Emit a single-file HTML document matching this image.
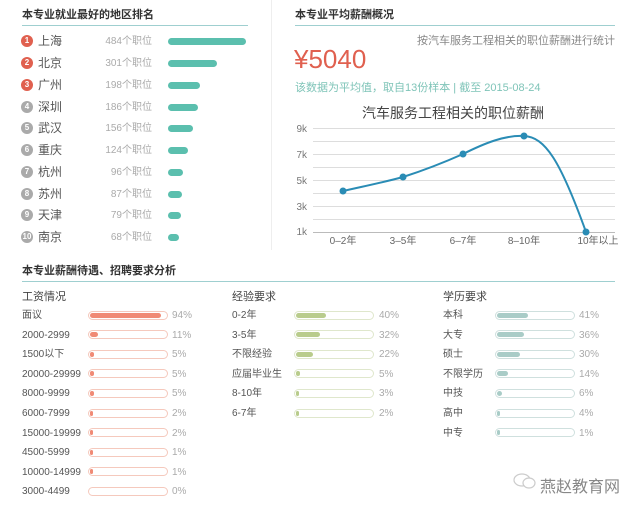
<!DOCTYPE html>
<html><head><meta charset="utf-8"><style>
body{margin:0;width:640px;height:510px;background:#fff;position:relative;overflow:hidden;font-family:"Liberation Sans","Noto Sans CJK SC",sans-serif;}
.a{position:absolute;white-space:nowrap;}
.t{font-size:11px;font-weight:bold;color:#333;}
.c{width:12px;height:12px;border-radius:50%;color:#fff;font-size:8px;line-height:12px;text-align:center;font-weight:bold;}
.bar{position:absolute;height:7px;border-radius:4px;background:#5bbfae;}
.pb{position:absolute;height:9px;border-radius:5px;box-sizing:border-box;}
.pb i{position:absolute;left:1px;top:1px;height:5px;border-radius:3px;}
.g{color:#aaa;font-size:10px;line-height:12px;}
.l{font-size:10px;color:#555;line-height:12px;}
</style></head><body>
<div class="a t" style="left:22px;top:6px">本专业就业最好的地区排名</div>
<div class="a" style="left:22px;top:25px;width:226px;height:1px;background:#9fcfd0"></div>
<div class="a" style="left:271px;top:0;width:1px;height:250px;background:#eee"></div>
<div id="rank"></div>
<div class="a t" style="left:295px;top:6px">本专业平均薪酬概况</div>
<div class="a" style="left:295px;top:25px;width:320px;height:1px;background:#9fcfd0"></div>
<div class="a" style="right:25px;top:32px;font-size:11px;color:#888">按汽车服务工程相关的职位薪酬进行统计</div>
<div class="a" style="left:294px;top:44px;font-size:26px;color:#e0604f">¥5040</div>
<div class="a" style="left:295px;top:79px;font-size:11px;color:#7fc4b8">该数据为平均值，取自13份样本 | 截至 2015-08-24</div>
<svg class="a" style="left:0;top:0" width="640" height="250">
<text x="453" y="118" font-size="14" fill="#444" text-anchor="middle" font-family="Liberation Sans,Noto Sans CJK SC,sans-serif">汽车服务工程相关的职位薪酬</text>
<g stroke="#ddd" stroke-width="1">
<line x1="313" x2="615" y1="128.5" y2="128.5"/><line x1="313" x2="615" y1="141.5" y2="141.5"/><line x1="313" x2="615" y1="154.5" y2="154.5"/><line x1="313" x2="615" y1="167.5" y2="167.5"/><line x1="313" x2="615" y1="180.5" y2="180.5"/><line x1="313" x2="615" y1="193.5" y2="193.5"/><line x1="313" x2="615" y1="206.5" y2="206.5"/><line x1="313" x2="615" y1="219.5" y2="219.5"/>
</g>
<line x1="313" x2="615" y1="232.5" y2="232.5" stroke="#bbb"/>
<g fill="#777" font-size="10" text-anchor="end" font-family="Liberation Sans,sans-serif">
<text x="307" y="132">9k</text><text x="307" y="158">7k</text><text x="307" y="184">5k</text><text x="307" y="210">3k</text><text x="307" y="235">1k</text></g>
<g fill="#666" font-size="10" text-anchor="middle" font-family="Liberation Sans,Noto Sans CJK SC,sans-serif">
<text x="343" y="244">0–2年</text><text x="403" y="244">3–5年</text><text x="463" y="244">6–7年</text><text x="524" y="244">8–10年</text><text x="598" y="244">10年以上</text></g>
<path d="M343,191 C365,186 385,182 403,177 C425,170 445,162 463,154 C485,143 505,135 524,136 C545,137 560,160 586,232" fill="none" stroke="#2a8cb5" stroke-width="2"/>
<g fill="#2a8cb5"><circle cx="343" cy="191" r="3.5"/><circle cx="403" cy="177" r="3.5"/><circle cx="463" cy="154" r="3.5"/><circle cx="524" cy="136" r="3.5"/><circle cx="586" cy="232" r="3.5"/></g>
</svg>
<div class="a t" style="left:22px;top:262px">本专业薪酬待遇、招聘要求分析</div>
<div class="a" style="left:22px;top:281px;width:593px;height:1px;background:#9fcfd0"></div>
<div class="a" style="left:22px;top:288px;font-size:11px;color:#444">工资情况</div>
<div class="a" style="left:232px;top:288px;font-size:11px;color:#444">经验要求</div>
<div class="a" style="left:443px;top:288px;font-size:11px;color:#444">学历要求</div>
<div id="bot"></div>
<svg class="a" style="left:512px;top:472px" width="26" height="18"><ellipse cx="10" cy="8" rx="8" ry="6" fill="none" stroke="#ccc" stroke-width="1.2"/><ellipse cx="17" cy="11" rx="6" ry="5" fill="#fff" stroke="#ccc" stroke-width="1.2"/></svg>
<div class="a" style="left:540px;top:473px;font-size:16px;color:#888">燕赵教育网</div>
<script>
var R=[["上海",484],["北京",301],["广州",198],["深圳",186],["武汉",156],["重庆",124],["杭州",96],["苏州",87],["天津",79],["南京",68]];
var h="",ys=[41,63,85,107,128,150,172,194,215,237];
R.forEach(function(r,i){var y=ys[i];
h+='<div class="a c" style="left:21px;top:'+(y-6)+'px;background:'+(i<3?'#e0604f':'#aaa')+'">'+(i+1)+'</div>';
h+='<div class="a" style="left:38px;top:'+(y-7)+'px;font-size:12px;line-height:14px;color:#555">'+r[0]+'</div>';
h+='<div class="a g" style="right:488px;top:'+(y-5)+'px">'+r[1]+'个职位</div>';
h+='<div class="bar" style="left:168px;top:'+(y-3)+'px;width:'+Math.max(10,r[1]*78/484)+'px"></div>';});
document.getElementById("rank").innerHTML=h;
function col(x,bx,px,data,bc,fc){var s="";data.forEach(function(d,i){var y=315+i*19.6;
s+='<div class="a l" style="left:'+x+'px;top:'+(y-5)+'px">'+d[0]+'</div>';
s+='<div class="pb" style="left:'+bx+'px;top:'+(y-4.5)+'px;width:80px;border:1px solid '+bc+'"><i style="background:'+fc+';width:'+Math.max(d[1]?3:0,d[1]*76/100)+'px"></i></div>';
s+='<div class="a g" style="left:'+px+'px;top:'+(y-5)+'px">'+d[1]+'%</div>';});return s;}
document.getElementById("bot").innerHTML=
col(22,88,172,[["面议",94],["2000-2999",11],["1500以下",5],["20000-29999",5],["8000-9999",5],["6000-7999",2],["15000-19999",2],["4500-5999",1],["10000-14999",1],["3000-4499",0]],"#f5c9bd","#f08a75")+
col(232,294,379,[["0-2年",40],["3-5年",32],["不限经验",22],["应届毕业生",5],["8-10年",3],["6-7年",2]],"#dfe7cc","#b9cc8c")+
col(443,495,579,[["本科",41],["大专",36],["硕士",30],["不限学历",14],["中技",6],["高中",4],["中专",1]],"#cfe0de","#a9ccc7");
</script>
</body></html>
